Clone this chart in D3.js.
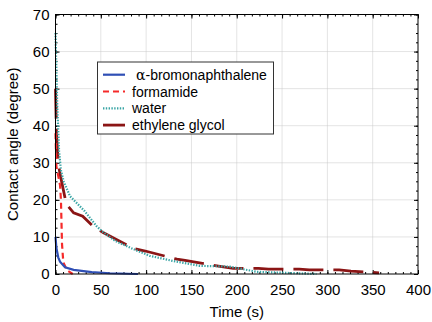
<!DOCTYPE html>
<html>
<head>
<meta charset="utf-8">
<script src="https://cdn.jsdelivr.net/npm/d3@7"></script>
<style>
  body { margin: 0; background: #fff; }
  text { font-family: "Liberation Sans", Arial, sans-serif; }
</style>
</head>
<body>
<div id="chart"></div>
<script>
// values
var bromoTime  = [0, 1, 3, 5, 10.5, 20, 40, 60, 91];
var bromoAngle = [10, 7, 4.5, 3.3, 1.8, 1.1, 0.5, 0.2, 0];

var formTime  = [0, 1, 5, 6, 6.4, 6.8, 7.2, 8.6, 12.7, 19];
var formAngle = [38, 29, 24, 20, 16, 12, 8, 3.2, 1, 0];

var waterTime  = [0, 2, 4, 6, 9, 16, 20, 32, 45, 51, 66, 86, 104, 130, 159, 192, 222, 266, 288];
var waterAngle = [65, 45, 33, 28, 25, 21, 20, 17, 13, 11.6, 8.9, 6.7, 4.9, 3.5, 2.2, 2.0, 0.6, 0.2, 0];

var glycolTime  = [0, 1, 3, 5, 12, 20, 30, 41, 53, 86, 99, 134, 143, 178, 196, 224, 235, 269, 280, 313, 326, 357];
var glycolAngle = [50, 38, 30, 27, 18.8, 16.5, 15.6, 13, 11.1, 6.9, 6.2, 4.0, 3.7, 2.2, 1.5, 1.5, 1.3, 1.3, 1.1, 1.1, 0.8, 0.3];

var seriesNames = ["α-bromonaphthalene", "formamide", "water", "ethylene glycol"];
var xTicks = [0, 50, 100, 150, 200, 250, 300, 350, 400];
var yTicks = [0, 10, 20, 30, 40, 50, 60, 70];

var margin = {top: 14.5, right: 14, bottom: 48, left: 55.5},
    width = 432 - margin.left - margin.right,
    height = 322 - margin.top - margin.bottom;

var svg = d3.select("#chart")
  .append("svg")
    .attr("width", 432)
    .attr("height", 322)
  .append("g")
    .attr("transform", "translate(" + margin.left + "," + margin.top + ")");

var x = d3.scaleLinear().domain([0, 400]).range([0, width]);
var y = d3.scaleLinear().domain([0, 70]).range([height, 0]);

// grid
svg.append("g").selectAll("line")
  .data(xTicks.slice(1, -1))
  .enter().append("line")
    .attr("x1", function(d) { return x(d); })
    .attr("x2", function(d) { return x(d); })
    .attr("y1", 0).attr("y2", height)
    .attr("stroke", "#c8c8c8")
    .attr("stroke-dasharray", "1,1");
svg.append("g").selectAll("line")
  .data(yTicks.slice(1, -1))
  .enter().append("line")
    .attr("y1", function(d) { return y(d); })
    .attr("y2", function(d) { return y(d); })
    .attr("x1", 0).attr("x2", width)
    .attr("stroke", "#c8c8c8")
    .attr("stroke-dasharray", "1,1");

// axes, ticks pointing inside, on all four sides
var xMinor = d3.range(0, 400.01, 50 / 6);
var yMinor = d3.range(0, 70.01, 2.5);

function addAxis(axis, transform) {
  var g = svg.append("g").attr("transform", transform).call(axis);
  g.select(".domain").remove();
  g.selectAll("line").attr("stroke", "#000");
  return g;
}

addAxis(d3.axisBottom(x).tickValues(xMinor).tickSize(-2).tickFormat(""), "translate(0," + height + ")");
addAxis(d3.axisTop(x).tickValues(xMinor).tickSize(-2).tickFormat(""), "translate(0,0)");
addAxis(d3.axisLeft(y).tickValues(yMinor).tickSize(-2).tickFormat(""), "translate(0,0)");
addAxis(d3.axisRight(y).tickValues(yMinor).tickSize(-2).tickFormat(""), "translate(" + width + ",0)");
addAxis(d3.axisTop(x).tickValues(xTicks).tickSize(-4).tickFormat(""), "translate(0,0)");
addAxis(d3.axisRight(y).tickValues(yTicks).tickSize(-4).tickFormat(""), "translate(" + width + ",0)");

var xAxis = addAxis(d3.axisBottom(x).tickValues(xTicks).tickSize(-4).tickPadding(10), "translate(0," + height + ")");
xAxis.selectAll("text").style("font-size", "15px").attr("fill", "#000");

var yAxis = addAxis(d3.axisLeft(y).tickValues(yTicks).tickSize(-4).tickPadding(6), "translate(0,0)");
yAxis.selectAll("text").style("font-size", "15px").attr("fill", "#000");

// curves
function toPoints(t, a) { return t.map(function(d, i) { return [d, a[i]]; }); }
var line = d3.line()
  .x(function(d) { return x(d[0]); })
  .y(function(d) { return y(d[1]); });

var series = [
  {pts: toPoints(bromoTime, bromoAngle), color: "#2f4fb5", w: 2.2, dash: null},
  {pts: toPoints(formTime, formAngle), color: "#f52a2a", w: 2.2, dash: "6,4"},
  {pts: toPoints(waterTime, waterAngle), color: "#3aa5a5", w: 2.2, dash: "1.4,1.4"},
  {pts: toPoints(glycolTime, glycolAngle), color: "#8b1515", w: 2.8, dash: "30,10"}
];

svg.append("g").selectAll("path")
  .data(series.slice().reverse())
  .enter().append("path")
    .attr("d", function(d) { return line(d.pts); })
    .attr("fill", "none")
    .attr("stroke", function(d) { return d.color; })
    .attr("stroke-width", function(d) { return d.w; })
    .attr("stroke-dasharray", function(d) { return d.dash; });

// frame
svg.append("rect")
  .attr("width", width).attr("height", height)
  .attr("fill", "none").attr("stroke", "#000").attr("stroke-width", 1);

// legend
var legend = svg.append("g").attr("transform", "translate(" + (97.5 - margin.left) + "," + (62 - margin.top) + ")");
legend.append("rect")
  .attr("width", 176).attr("height", 72)
  .attr("fill", "#fff").attr("stroke", "#333").attr("stroke-width", 1);

var rows = legend.selectAll("g.row")
  .data(series)
  .enter().append("g")
    .attr("class", "row")
    .attr("transform", function(d, i) { return "translate(0," + (12.7 + i * 16.8) + ")"; });

rows.append("line")
  .attr("x1", 5.5).attr("x2", 27.5)
  .attr("stroke", function(d) { return d.color; })
  .attr("stroke-width", function(d) { return d.w; })
  .attr("stroke-dasharray", function(d, i) { return i === 3 ? null : d.dash; });

rows.append("text")
  .attr("x", 34.5)
  .attr("y", 5)
  .style("font-size", "14px")
  .each(function(d, i) {
    var t = d3.select(this);
    if (i === 0) {
      t.append("tspan").attr("dx", 4).style("font-family", "'DejaVu Serif', serif").text("α");
      t.append("tspan").text(seriesNames[0].slice(1));
    } else {
      t.text(seriesNames[i]);
    }
  });

// axis titles
svg.append("text")
  .attr("x", width / 2)
  .attr("y", height + 43)
  .attr("text-anchor", "middle")
  .style("font-size", "15px")
  .text("Time (s)");

svg.append("text")
  .attr("transform", "rotate(-90)")
  .attr("x", -height / 2)
  .attr("y", -38)
  .attr("text-anchor", "middle")
  .style("font-size", "15px")
  .text("Contact angle (degree)");
</script>
</body>
</html>
